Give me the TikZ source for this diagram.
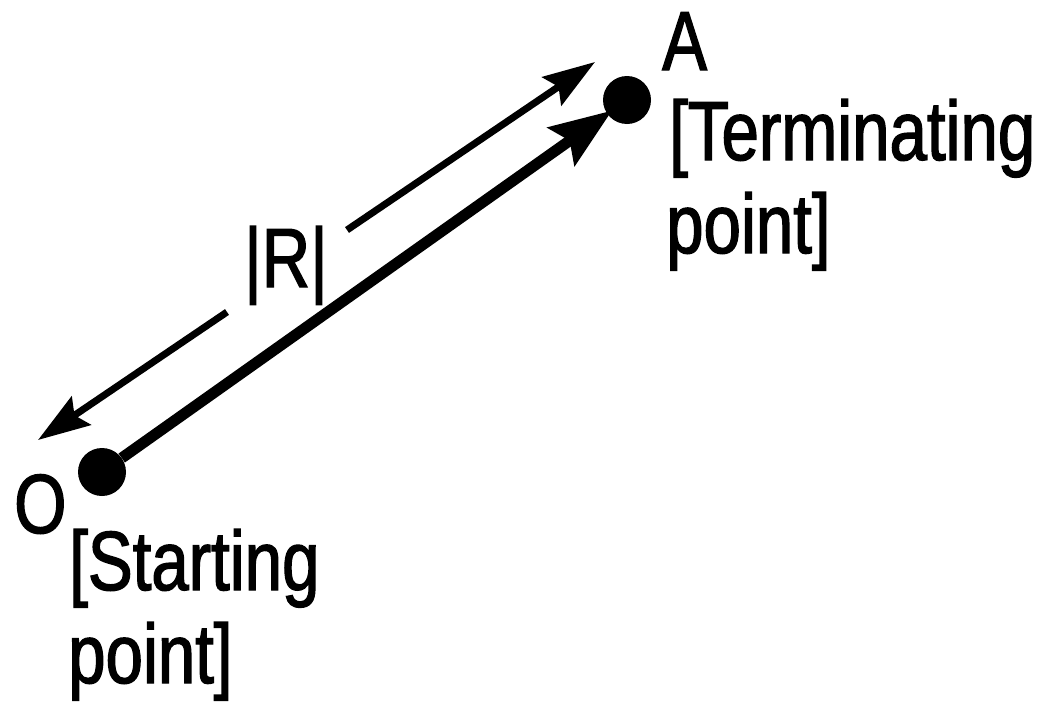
\documentclass[tikz,border=0pt]{standalone}
\usepackage{fontspec}
\setmainfont[FakeStretch=0.8,FakeBold=1.6]{Liberation Sans}
\usetikzlibrary{arrows.meta}
\begin{document}
\begin{tikzpicture}[x=1pt,y=-1pt,
  dot/.style={circle,fill=black,inner sep=0pt,minimum size=48pt},
  lbl/.style={anchor=base west,inner sep=0pt,font=\fontsize{84}{92}\selectfont},
  thick arrow/.style={line width=11pt,-{Stealth[length=62pt,width=46pt,inset=10pt]}},
  thin arrow/.style={line width=7pt,-{Stealth[length=52pt,width=34pt,inset=8pt]}}]
\useasboundingbox (0,0) rectangle (1043,704);
\node[dot] (O) at (102,472) {};
\node[dot] (A) at (627,100) {};
\draw[thick arrow,shorten >=-6pt] (O) -- (A);
\coordinate (u1) at (347,230);
\coordinate (u2) at (595,62);
\coordinate (l1) at (227,312);
\coordinate (l2) at (38,440);
\draw[thin arrow] (u1) -- (u2);
\draw[thin arrow] (l1) -- (l2);
\node[lbl] (R) at (244,287) {|R|};
\node[lbl] (At) at (662,70) {A};
\node[lbl] (At1) at (669,160) {[Terminating};
\node[lbl] (At2) at (666,253) {point]};
\node[lbl] (Ot) at (14,533) {O};
\node[lbl] (Ot1) at (69,590) {[Starting};
\node[lbl] (Ot2) at (68,683) {point]};
\end{tikzpicture}
\end{document}
